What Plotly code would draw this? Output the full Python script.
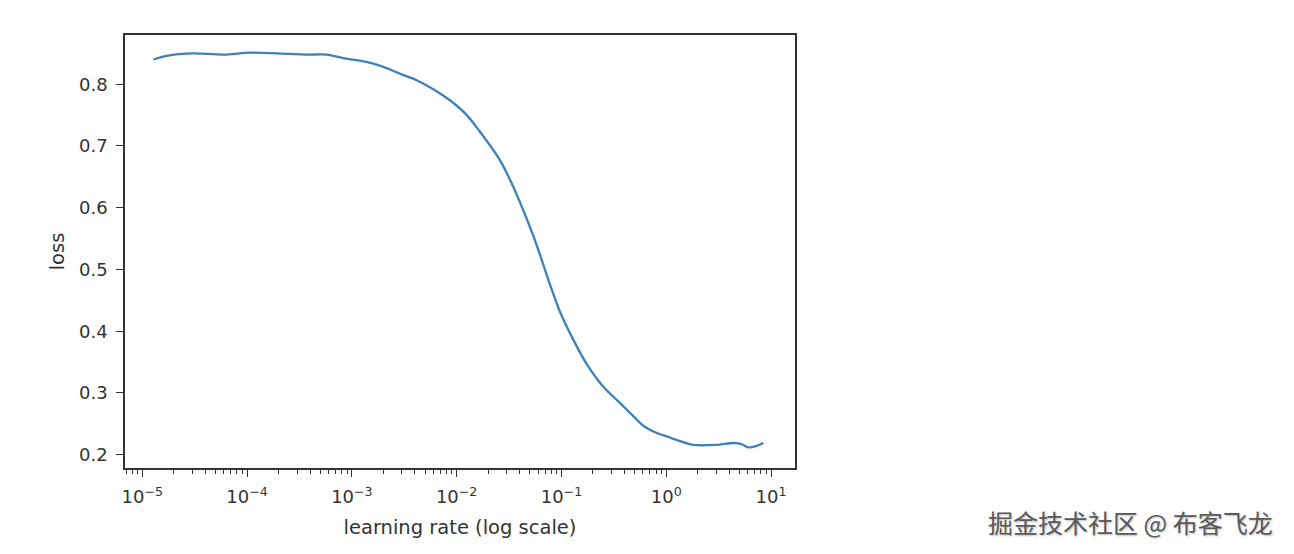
import plotly.graph_objects as go

# Learning rate finder curve.
learning_rates = [1.27e-5, 1.71e-5, 3.07e-5, 5.93e-5, 1.07e-4, 1.91e-4, 3.71e-4,
                  5.75e-4, 8.55e-4, 1.38e-3, 2.0e-3, 2.88e-3, 4.15e-3, 5.98e-3,
                  8.63e-3, 1.25e-2, 1.67e-2, 2.59e-2, 3.47e-2, 4.32e-2, 5.38e-2,
                  6.47e-2, 7.76e-2, 9.66e-2, 0.130, 0.174, 0.251, 0.361, 0.502,
                  0.604, 0.794, 1.01, 1.81, 3.03, 4.37, 5.25, 6.07, 7.2, 8.43]
losses = [0.840, 0.846, 0.850, 0.848, 0.851, 0.850, 0.848,
          0.848, 0.842, 0.836, 0.828, 0.817, 0.8065, 0.792,
          0.774, 0.750, 0.723, 0.677, 0.634, 0.596, 0.555,
          0.516, 0.476, 0.432, 0.386, 0.347, 0.310, 0.284, 0.260,
          0.247, 0.236, 0.2296, 0.216, 0.216, 0.219, 0.217, 0.212, 0.214, 0.219]

tick_values = [1e-5, 1e-4, 1e-3, 1e-2, 1e-1, 1e0, 1e1]
tick_labels = ["10<sup>−5</sup>", "10<sup>−4</sup>", "10<sup>−3</sup>", "10<sup>−2</sup>",
               "10<sup>−1</sup>", "10<sup>0</sup>", "10<sup>1</sup>"]
y_ticks = [0.2, 0.3, 0.4, 0.5, 0.6, 0.7, 0.8]

axis_color = "#333333"
font = "DejaVu Sans"

fig = go.Figure()
fig.add_trace(go.Scatter(x=learning_rates, y=losses, mode="lines",
                         line=dict(color="#3d82b8", width=2.3, shape="spline", smoothing=0.8),
                         showlegend=False))

# The page body adds 8px around the figure, so size it a little smaller.
fig.update_layout(
    width=1278, height=538, autosize=False,
    margin=dict(l=117, r=491, t=27, b=78),
    paper_bgcolor="white", plot_bgcolor="white",
    font=dict(family=font, size=18, color=axis_color),
)

fig.update_xaxes(
    type="log", range=[-5.165, 1.229],
    tickmode="array", tickvals=tick_values, ticktext=tick_labels,
    ticks="outside", ticklen=7, tickwidth=1.2, tickcolor=axis_color,
    ticklabelstandoff=5,
    minor=dict(dtick="D1", ticks="outside", ticklen=4, tickwidth=1, tickcolor=axis_color, showgrid=False),
    showgrid=False, zeroline=False,
    showline=True, linecolor=axis_color, linewidth=1.6, mirror=True,
    title=dict(text="learning rate (log scale)", font=dict(size=19.5), standoff=14),
)

fig.update_yaxes(
    range=[0.1785, 0.8797],
    tickmode="array", tickvals=y_ticks, ticktext=[f"{v:.1f}" for v in y_ticks],
    ticks="outside", ticklen=7, tickwidth=1.2, tickcolor=axis_color,
    ticklabelstandoff=5,
    showgrid=False, zeroline=False,
    showline=True, linecolor=axis_color, linewidth=1.6, mirror=True,
    title=dict(text="loss", font=dict(size=19.5), standoff=9),
)

# Watermark in the bottom right corner.
fig.add_annotation(
    text="掘金技术社区 @ 布客飞龙",
    xref="paper", yref="paper", x=1.716, y=-0.1247,
    xanchor="right", yanchor="middle", showarrow=False,
    font=dict(family="Noto Sans CJK SC", size=25, color="#5a5a5a",
              shadow="1px 1px 2px #bbbbbb"),
)

fig.write_html("out.html")
